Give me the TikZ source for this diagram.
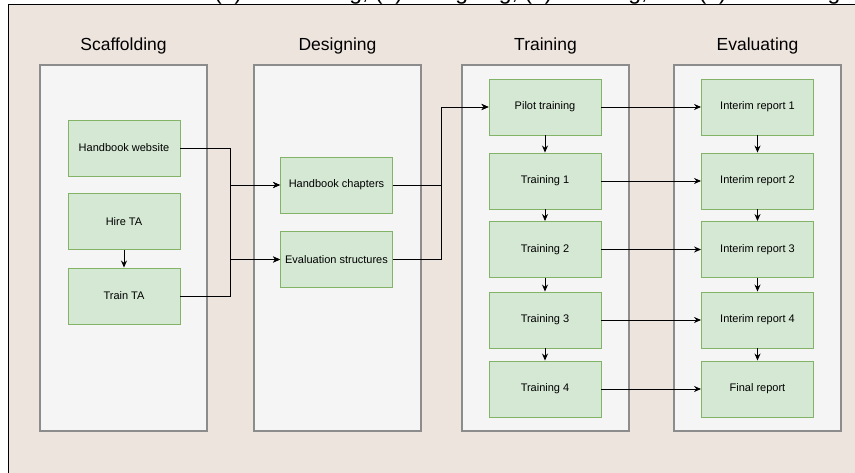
\documentclass[tikz,border=0pt]{standalone}
\usepackage{fontspec}
\setmainfont{Liberation Sans}
\usepackage[svgnames]{xcolor}
\usetikzlibrary{positioning, arrows.meta, calc}

\definecolor{paper}{RGB}{238,228,222}
\definecolor{panelfill}{RGB}{245,245,245}
\definecolor{paneledge}{RGB}{140,140,140}
\definecolor{taskfill}{RGB}{213,232,212}
\definecolor{taskedge}{RGB}{130,179,102}

\begin{document}
\begin{tikzpicture}[x=1pt, y=-1pt,
        panel/.style={draw=paneledge, fill=panelfill, line width=1.1pt},
        phase/.style={font=\fontsize{17.5}{20}\selectfont, inner sep=0pt},
        task/.style={draw=taskedge, fill=taskfill, line width=0.9pt,
            minimum width=112pt, minimum height=56pt, inner sep=0pt,
            font=\fontsize{11}{13}\selectfont},
        link/.style={line width=0.9pt, -{Stealth[length=7pt, width=6pt]}}]
            \def\panelw{167}
            \def\panelh{366}

            \useasboundingbox (0,0) rectangle (855,473);
            \clip (0,0) rectangle (855,473);

            % sheet
            \draw[black, fill=paper, line width=1pt] (8,5) rectangle (880,500);

            % caption, cut by the top edge
            \node[anchor=base west, inner sep=0pt, font=\fontsize{23}{26}\selectfont] (caption)
                at (214,-0.7) {(1) Scaffolding, (2) Designing, (3) Training, and (4) Evaluating};

            % phase panels and titles
            \foreach \px/\name/\title in {40/scaf/Scaffolding, 254/desi/Designing, 462/trai/Training, 674/eval/Evaluating}
            {
                \draw[panel] (\px,65) rectangle ++(\panelw,\panelh);
                \node[phase] (title-\name) at (\px + \panelw/2, 46) {\title};
            }

            % scaffolding and designing
            \node[task] (web) at (124,148) {Handbook website};
            \node[task] (hire) at (124,221.5) {Hire TA};
            \node[task] (train) at (124,296) {Train TA};
            \node[task] (chap) at (336.5,185) {Handbook chapters};
            \node[task] (evs) at (336.5,259.5) {Evaluation structures};

            \draw[link] (hire) -- (train);

            % training and evaluating
            \foreach \i/\y/\t/\r in {0/107/Pilot training/Interim report 1,
                                     1/181/Training 1/Interim report 2,
                                     2/249.5/Training 2/Interim report 3,
                                     3/320/Training 3/Interim report 4,
                                     4/389/Training 4/Final report}
            {
                \node[task] (t\i) at (545,\y) {\t};
                \node[task] (r\i) at (757.5,\y) {\r};
                \draw[link] (t\i) -- (r\i);
            }
            \foreach \a/\b in {0/1,1/2,2/3,3/4}
            {
                \draw[link] (t\a) -- (t\b);
                \draw[link] (r\a) -- (r\b);
            }

            % elbow links between phases
            \coordinate (join1) at (230,0);
            \coordinate (join2) at (441,0);
            \foreach \src in {web,train}
            {
                \foreach \dst in {chap,evs}
                {
                    \draw[link] (\src.east) -- (\src.east -| join1) |- (\dst.west);
                }
            }
            \foreach \src in {chap,evs}
            {
                \draw[link] (\src.east) -- (\src.east -| join2) |- (t0.west);
            }
        \end{tikzpicture}
\end{document}
